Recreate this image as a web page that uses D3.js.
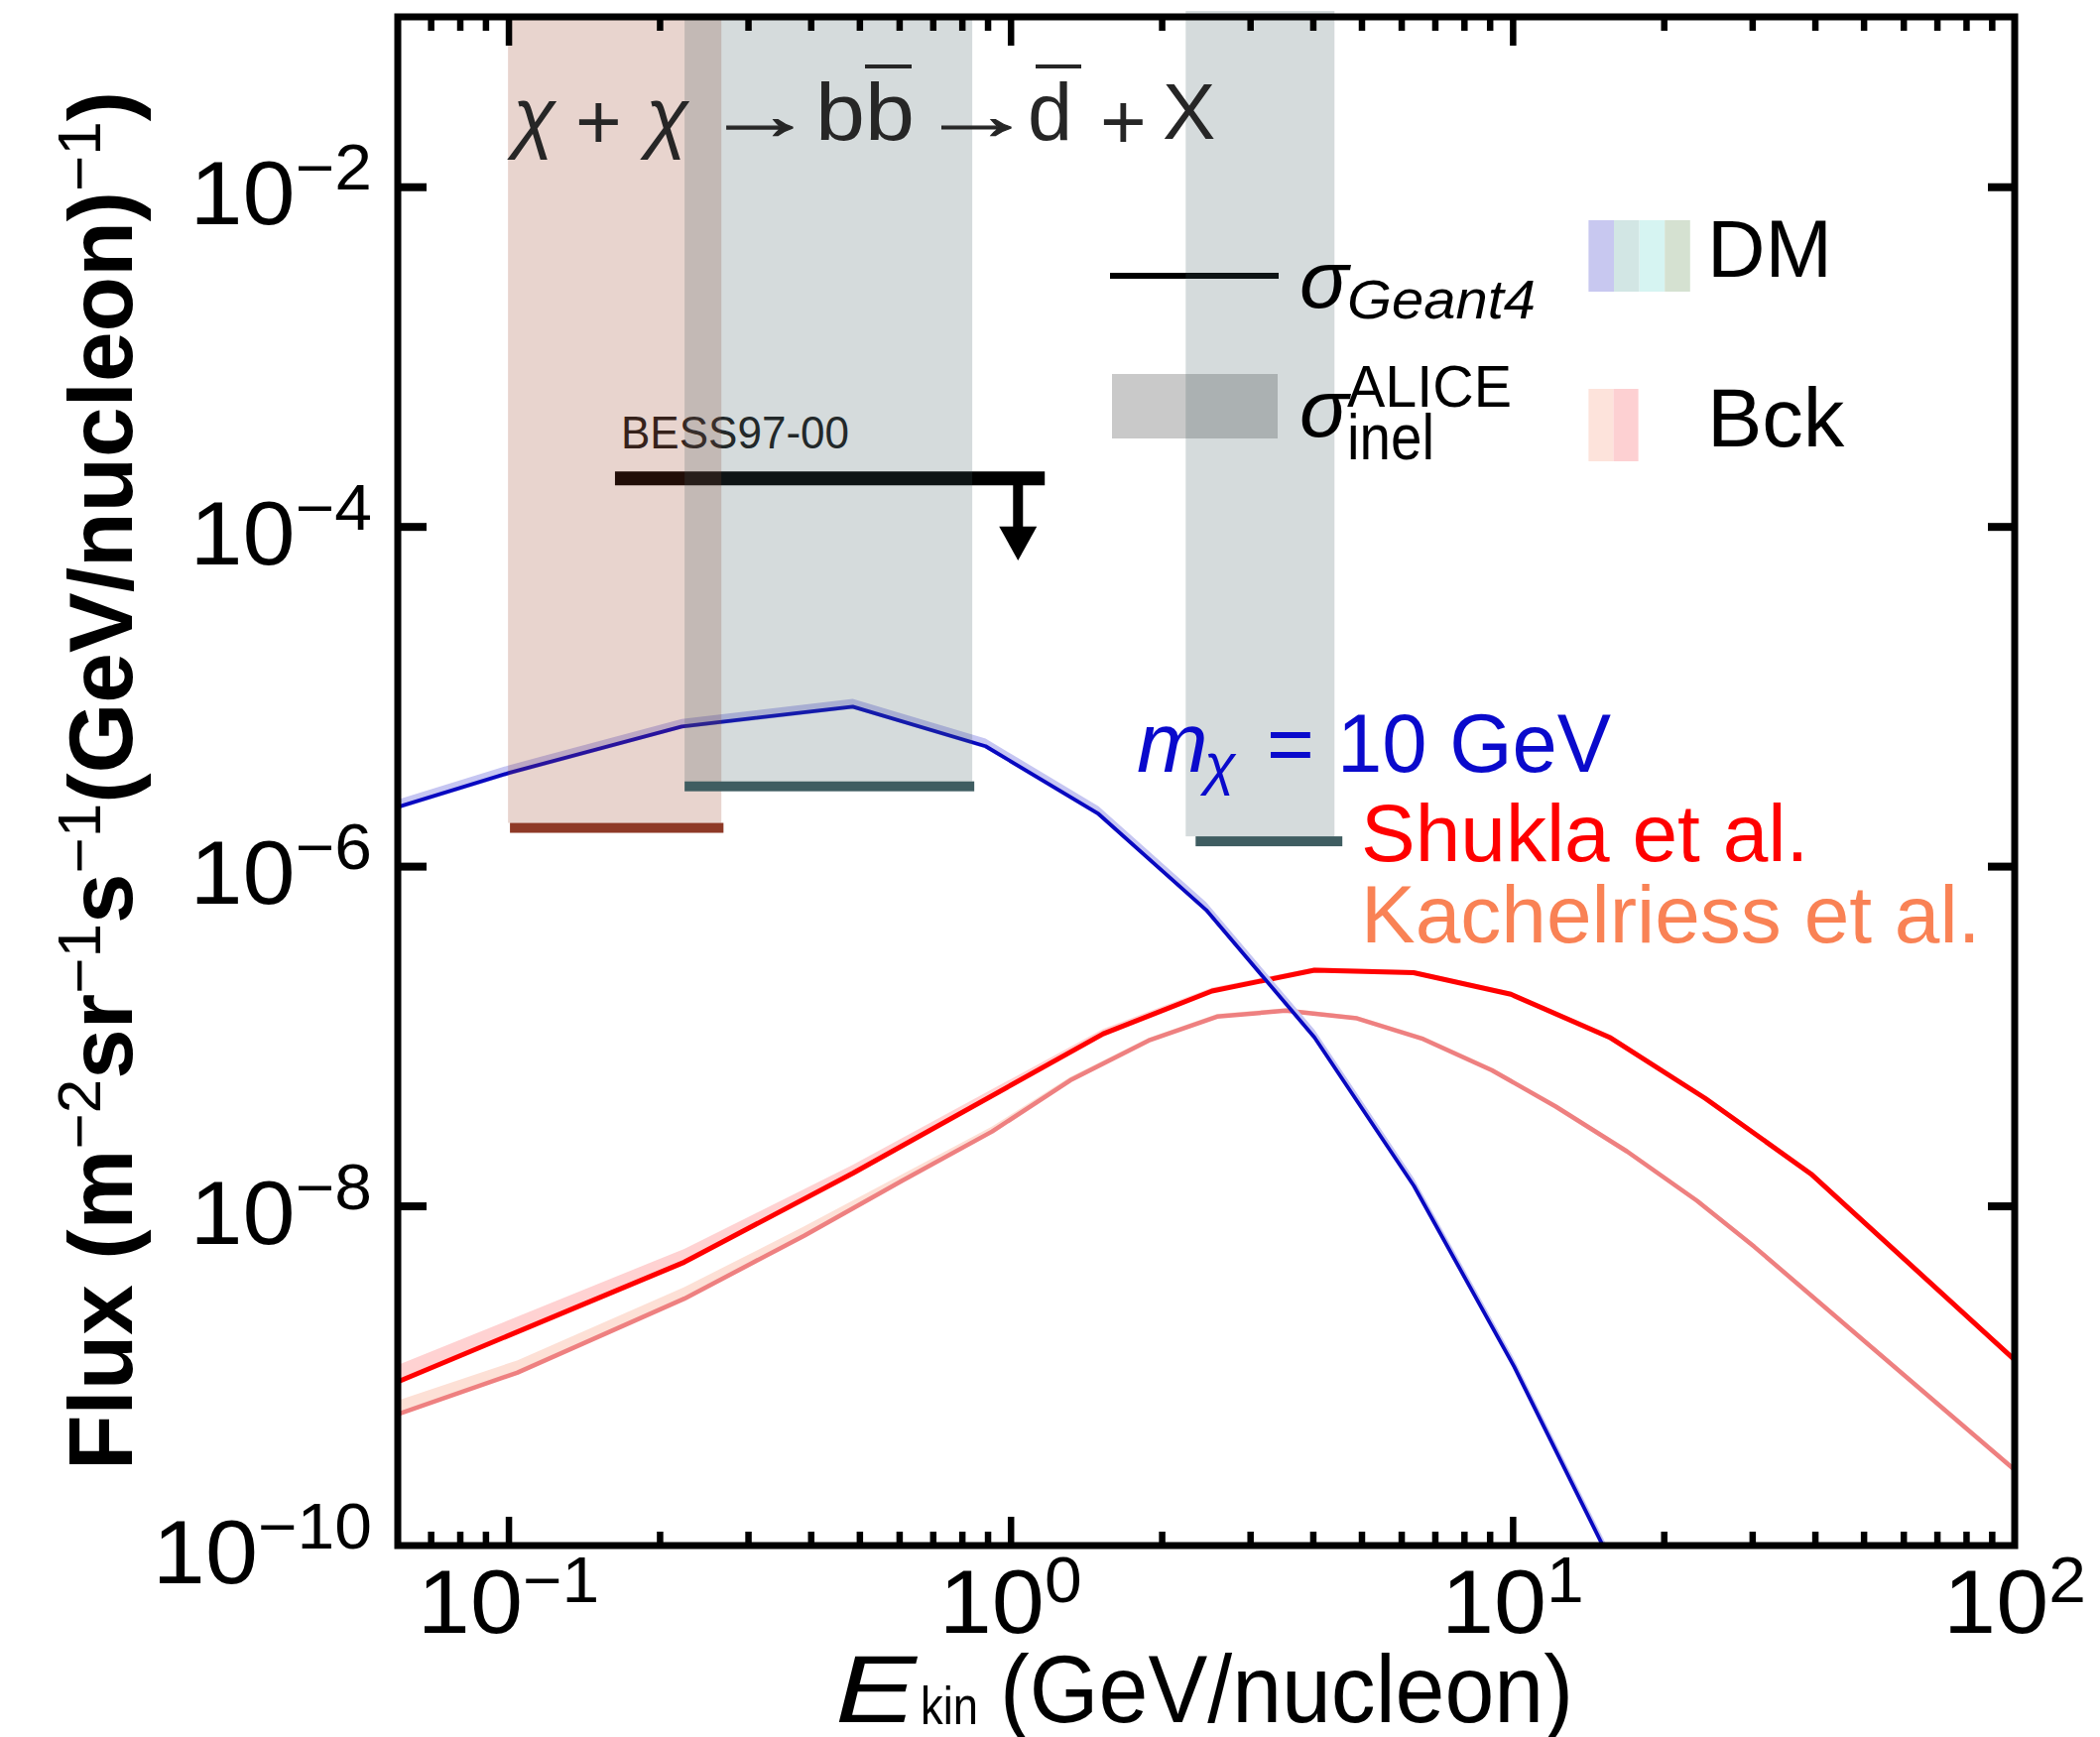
<!DOCTYPE html>
<html>
<head>
<meta charset="utf-8">
<script src="https://cdn.jsdelivr.net/npm/d3@7"></script>
<style>
  html, body { margin: 0; padding: 0; background: #fff; }
  svg { display: block; }
  text { font-family: "Liberation Sans", Arial, Helvetica, sans-serif; }
</style>
</head>
<body>
<svg id="chart" width="2117" height="1751"></svg>
<script>
// ---- axes ----
const xDomain = [0.0602, 100];
const yDomain = [1e-10, 1e-1];
const xMajorTicks = [0.1, 1, 10, 100];
const xTickExponents = ["−1", "0", "1", "2"];
const yMajorTicks = [1e-2, 1e-4, 1e-6, 1e-8, 1e-10];
const yTickExponents = ["−2", "−4", "−6", "−8", "−10"];

// ---- dark matter signal, m_chi = 10 GeV (b bbar) ----
const dmEnergy = [0.06, 0.1006, 0.2215, 0.485, 0.892, 1.497, 2.453, 4.03, 6.36, 10.07, 15.0, 16.0];
const dmFlux   = [2.22e-6, 3.55e-6, 6.64e-6, 8.69e-6, 5.08e-6, 2.03e-6, 5.52e-7, 9.82e-8, 1.31e-8, 1.13e-9, 1.05e-10, 7.2e-11];
const dmHigh   = [2.46e-6, 3.94e-6, 7.36e-6, 9.64e-6, 5.64e-6, 2.25e-6, 6.12e-7, 1.09e-7, 1.45e-8, 1.25e-9, 1.17e-10, 8.0e-11];
const dmLow    = [2.15e-6, 3.44e-6, 6.44e-6, 8.43e-6, 4.93e-6, 1.97e-6, 5.35e-7, 9.5e-8, 1.27e-8, 1.10e-9, 1.02e-10, 7.0e-11];

// ---- secondary background, Shukla et al. ----
const shuklaEnergy = [0.06, 0.224, 0.486, 1.53, 2.52, 4.03, 6.35, 9.92, 15.6, 24.2, 39.3, 100];
const shuklaFlux   = [9.18e-10, 4.66e-9, 1.56e-8, 1.03e-7, 1.84e-7, 2.44e-7, 2.36e-7, 1.76e-7, 9.82e-8, 4.29e-8, 1.54e-8, 1.24e-9];
const shuklaHigh   = [1.15e-9, 5.58e-9, 1.75e-8, 1.10e-7, 1.93e-7, 2.53e-7, 2.44e-7, 1.82e-7, 1.02e-7, 4.44e-8, 1.59e-8, 1.29e-9];
const shuklaLow    = [9.04e-10, 4.59e-9, 1.54e-8, 1.01e-7, 1.81e-7, 2.41e-7, 2.32e-7, 1.73e-7, 9.67e-8, 4.23e-8, 1.51e-8, 1.22e-9];

// ---- secondary background, Kachelriess et al. ----
const kachEnergy = [0.06, 0.104, 0.224, 0.388, 0.607, 0.919, 1.315, 1.884, 2.579, 3.532, 4.898, 6.637, 9.1, 12.19, 16.9, 23.3, 30.3, 100];
const kachFlux   = [5.92e-10, 1.04e-9, 2.84e-9, 6.67e-9, 1.40e-8, 2.74e-8, 5.48e-8, 9.40e-8, 1.30e-7, 1.41e-7, 1.27e-7, 9.59e-8, 6.28e-8, 3.84e-8, 2.09e-8, 1.07e-8, 5.74e-9, 2.79e-10];
const kachHigh   = [7.12e-10, 1.23e-9, 3.32e-9, 7.57e-9, 1.53e-8, 2.93e-8, 5.74e-8, 9.73e-8, 1.35e-7, 1.46e-7, 1.31e-7, 9.93e-8, 6.50e-8, 3.97e-8, 2.17e-8, 1.11e-8, 5.94e-9, 2.89e-10];
const kachLow    = [5.83e-10, 1.02e-9, 2.80e-9, 6.57e-9, 1.38e-8, 2.69e-8, 5.40e-8, 9.26e-8, 1.28e-7, 1.39e-7, 1.25e-7, 9.45e-8, 6.19e-8, 3.78e-8, 2.06e-8, 1.05e-8, 5.65e-9, 2.75e-10];

// ---- experimental energy windows and sensitivities ----
const windowKind  = ["bck", "dm", "dm"];
const windowLow   = [0.0998, 0.2243, 2.233];
const windowHigh  = [0.2655, 0.839, 4.418];
const sensLow     = [0.1007, 0.2243, 2.337];
const sensHigh    = [0.2681, 0.8468, 4.58];
const sensFlux    = [1.68e-6, 2.95e-6, 1.40e-6];

// ---- BESS97-00 upper limit ----
const bessEnergy = [0.163, 1.17];
const bessLimit = 1.92e-4;
const bessArrowEnergy = 1.035;
const bessArrowHead = [1.0e-4, 6.3e-5];

// ---- legend swatch colours ----
const dmSwatch  = ["#c8c8f0", "#d2e6e4", "#d6f4f2", "#d5e1d1"];
const bckSwatch = ["#fde3db", "#fdd0d2"];

const svg = d3.select("#chart");
const plot = { left: 401, right: 2031, top: 17, bottom: 1558 };

const x = d3.scaleLog().domain(xDomain).range([plot.left, plot.right]);
const y = d3.scaleLog().domain(yDomain).range([plot.bottom, plot.top]);

svg.append("defs").append("clipPath").attr("id", "plotClip")
  .append("rect")
  .attr("x", plot.left).attr("y", plot.top)
  .attr("width", plot.right - plot.left).attr("height", plot.bottom - plot.top);

function addText(parent, px, py, str, o = {}) {
  const t = parent.append("text")
    .attr("transform", `translate(${px},${py})` + (o.sx ? ` scale(${o.sx},1)` : ""))
    .attr("font-size", o.size || 80)
    .attr("fill", o.fill || "#000")
    .attr("text-anchor", o.anchor || "start")
    .text(str);
  if (o.family) t.attr("font-family", o.family);
  if (o.italic) t.attr("font-style", "italic");
  if (o.weight) t.attr("font-weight", o.weight);
  if (o.len) t.attr("textLength", o.len).attr("lengthAdjust", "spacingAndGlyphs");
  return t;
}

// places a glyph so that its inked box fills [x0,x1] with the given height around yMid
const measureCtx = document.createElement("canvas").getContext("2d");
function fitGlyph(parent, str, family, x0, x1, yMid, height, fill) {
  const size = 100;
  measureCtx.font = `${size}px ${family}`;
  const m = measureCtx.measureText(str);
  const inkL = -m.actualBoundingBoxLeft, inkR = m.actualBoundingBoxRight;
  const inkT = -m.actualBoundingBoxAscent, inkB = m.actualBoundingBoxDescent;
  const sx = (x1 - x0) / Math.max(1, inkR - inkL);
  const sy = height / Math.max(1, inkB - inkT);
  const tx = x0 - sx * inkL, ty = yMid - sy * (inkT + inkB) / 2;
  return parent.append("text")
    .attr("transform", `translate(${tx},${ty}) scale(${sx},${sy})`)
    .attr("font-family", family).attr("font-size", size).attr("fill", fill)
    .attr("stroke", fill).attr("stroke-width", 1.6).attr("vector-effect", "non-scaling-stroke")
    .text(str);
}
const serif = '"Liberation Serif", "Times New Roman", serif';

// legend: ALICE grey box (sits beneath the energy windows)
svg.append("rect").attr("x", 1121).attr("y", 377).attr("width", 167).attr("height", 65).attr("fill", "#c9c9c9");

// curves
const curves = svg.append("g").attr("clip-path", "url(#plotClip)");
function drawCurve(E, F, hi, lo, bandColor, lineColor, width) {
  const pts = E.map((e, i) => ({ e, f: F[i], hi: hi[i], lo: lo[i] }));
  curves.append("path").datum(pts)
    .attr("d", d3.area().x(d => x(d.e)).y0(d => y(d.lo)).y1(d => y(d.hi)))
    .attr("fill", bandColor);
  curves.append("path").datum(pts)
    .attr("d", d3.line().x(d => x(d.e)).y(d => y(d.f)))
    .attr("fill", "none").attr("stroke", lineColor).attr("stroke-width", width)
    .attr("stroke-linejoin", "round");
}
drawCurve(kachEnergy, kachFlux, kachHigh, kachLow, "#fde0d6", "#ee8080", 4.5);
drawCurve(shuklaEnergy, shuklaFlux, shuklaHigh, shuklaLow, "#ffd2d2", "#ff0000", 5);
drawCurve(dmEnergy, dmFlux, dmHigh, dmLow, "#c6c6f2", "#0808c0", 3.8);

// BESS upper limit with arrow
const bess = svg.append("g");
bess.append("line")
  .attr("x1", x(bessEnergy[0])).attr("x2", x(bessEnergy[1]))
  .attr("y1", y(bessLimit)).attr("y2", y(bessLimit))
  .attr("stroke", "#000").attr("stroke-width", 14);
const ax = x(bessArrowEnergy);
bess.append("line")
  .attr("x1", ax).attr("x2", ax)
  .attr("y1", y(bessLimit)).attr("y2", y(bessArrowHead[0]) + 2)
  .attr("stroke", "#000").attr("stroke-width", 10);
bess.append("path")
  .attr("d", `M${ax - 19},${y(bessArrowHead[0])}L${ax + 19},${y(bessArrowHead[0])}L${ax},${y(bessArrowHead[1])}Z`)
  .attr("fill", "#000");
addText(svg, 626, 452, "BESS97-00", { size: 46, fill: "#1a1a1a", len: 230 });

// legend: Geant4 line
svg.append("line").attr("x1", 1119).attr("x2", 1289).attr("y1", 278).attr("y2", 278)
  .attr("stroke", "#000").attr("stroke-width", 6);

// energy windows (translucent)
const bar = 10;
windowKind.forEach((k, i) => {
  const top = i === 2 ? plot.top - 6 : plot.top + 3;
  svg.append("rect")
    .attr("x", x(windowLow[i])).attr("width", x(windowHigh[i]) - x(windowLow[i]))
    .attr("y", top).attr("height", y(sensFlux[i]) - bar / 2 - top)
    .attr("fill", k === "bck" ? "rgba(150,60,30,0.22)" : "rgba(65,90,95,0.22)");
});
windowKind.forEach((k, i) => {
  svg.append("rect")
    .attr("x", x(sensLow[i])).attr("width", x(sensHigh[i]) - x(sensLow[i]))
    .attr("y", y(sensFlux[i]) - bar / 2).attr("height", bar)
    .attr("fill", k === "bck" ? "#8e3926" : "#3f5d61");
});

// process annotation: chi + chi -> b bbar -> dbar + X
const ink = "#262626";
const arrowFont = '"DejaVu Sans", sans-serif';
addText(svg, 517, 144, "χ", { size: 79, family: serif, italic: true, fill: ink });
addText(svg, 580, 150, "+", { size: 80, fill: ink });
addText(svg, 651, 144, "χ", { size: 79, family: serif, italic: true, fill: ink });
fitGlyph(svg, "→", arrowFont, 716, 798, 119, 30, ink);
addText(svg, 822, 141, "bb", { size: 81, fill: ink, len: 100 });
fitGlyph(svg, "→", arrowFont, 932, 1018, 119, 30, ink);
addText(svg, 1036, 141, "d", { size: 81, fill: ink });
addText(svg, 1109, 150, "+", { size: 80, fill: ink });
addText(svg, 1172, 140, "X", { size: 80, fill: ink });
svg.append("line").attr("x1", 872).attr("x2", 919).attr("y1", 67).attr("y2", 67).attr("stroke", ink).attr("stroke-width", 4);
svg.append("line").attr("x1", 1044).attr("x2", 1090).attr("y1", 67).attr("y2", 67).attr("stroke", ink).attr("stroke-width", 4);

// legend texts
addText(svg, 1310, 310, "σ", { size: 82, family: serif, italic: true });
addText(svg, 1358, 321, "Geant4", { size: 56, italic: true, len: 190 });
addText(svg, 1310, 440, "σ", { size: 82, family: serif, italic: true });
addText(svg, 1358, 410, "ALICE", { size: 60, len: 166 });
addText(svg, 1358, 463, "inel", { size: 64, len: 88 });
dmSwatch.forEach((c, i) => svg.append("rect").attr("x", 1601.4 + i * 25.6).attr("y", 222).attr("width", 25.6).attr("height", 72).attr("fill", c));
bckSwatch.forEach((c, i) => svg.append("rect").attr("x", 1601.4 + i * 25.1).attr("y", 392).attr("width", 25.1).attr("height", 73).attr("fill", c));
addText(svg, 1721, 279, "DM", { size: 81 });
addText(svg, 1721, 450, "Bck", { size: 83 });

// curve labels
const blue = "#0a0acc";
addText(svg, 1146, 778, "m", { size: 86, italic: true, fill: blue });
addText(svg, 1214, 790, "χ", { size: 58, family: serif, italic: true, fill: blue });
addText(svg, 1277, 778, "=", { size: 82, fill: blue });
addText(svg, 1348, 778, "10 GeV", { size: 83, fill: blue, len: 276 });
addText(svg, 1372, 868, "Shukla et al.", { size: 82, fill: "#ff0000" });
addText(svg, 1372, 950, "Kachelriess et al.", { size: 82, fill: "#f98255" });

// ticks (inward on all four sides)
const minorX = [];
for (let p = -2; p <= 1; p++) for (let m = 2; m <= 9; m++) {
  const v = m * Math.pow(10, p);
  if (v > xDomain[0] * 1.02 && v < xDomain[1]) minorX.push(v);
}
const innerY = yMajorTicks.filter(v => v > yDomain[0]);
function tickGroup(axis, tx, ty, width) {
  const g = svg.append("g").attr("transform", `translate(${tx},${ty})`).call(axis);
  g.select(".domain").remove();
  g.selectAll("line").attr("stroke", "#000").attr("stroke-width", width);
  g.selectAll("text").remove();
}
tickGroup(d3.axisBottom(x).tickValues(xMajorTicks.slice(0, 3)).tickSize(-29), 0, plot.bottom, 6.5);
tickGroup(d3.axisBottom(x).tickValues(minorX).tickSize(-14), 0, plot.bottom, 6.5);
tickGroup(d3.axisTop(x).tickValues(xMajorTicks.slice(0, 3)).tickSize(-29), 0, plot.top, 6.5);
tickGroup(d3.axisTop(x).tickValues(minorX).tickSize(-14), 0, plot.top, 6.5);
tickGroup(d3.axisLeft(y).tickValues(innerY).tickSize(-29), plot.left, 0, 8);
tickGroup(d3.axisRight(y).tickValues(innerY).tickSize(-27), plot.right, 0, 8);

// frame
svg.append("rect")
  .attr("x", plot.left).attr("y", plot.top)
  .attr("width", plot.right - plot.left).attr("height", plot.bottom - plot.top)
  .attr("fill", "none").attr("stroke", "#000").attr("stroke-width", 7);

// tick labels 10^n
function powerLabel(px, py, exp, anchor, supDy) {
  const t = svg.append("text")
    .attr("transform", `translate(${px},${py}) scale(1.06,1)`)
    .attr("text-anchor", anchor).attr("font-size", 90).attr("fill", "#000");
  t.append("tspan").text("10");
  t.append("tspan").attr("dy", supDy).attr("font-size", 64).text(exp);
}
yMajorTicks.forEach((v, i) => powerLabel(375, y(v) + 38, yTickExponents[i], "end", -35));
xMajorTicks.forEach((v, i) => powerLabel(x(v), 1646, xTickExponents[i], "middle", -31));

// axis titles
const yt = svg.append("text")
  .attr("transform", `translate(133,787) rotate(-90)`)
  .attr("text-anchor", "middle").attr("font-size", 91).attr("font-weight", "bold").attr("fill", "#000");
[["Flux (m", null], ["−2", "sup"], ["sr", null], ["−1", "sup"], ["s", null], ["−1", "sup"],
 ["(GeV/nucleon)", null], ["−1", "sup"], [")", null]].forEach(([s, kind], i, arr) => {
  const sp = yt.append("tspan").text(s);
  if (kind === "sup") sp.attr("dy", -32).attr("font-size", 62).attr("font-weight", "normal");
  else if (i > 0 && arr[i - 1][1] === "sup") sp.attr("dy", 32);
});

addText(svg, 842, 1736, "E", { size: 96, italic: true, len: 82 });
addText(svg, 928, 1738, "kin", { size: 54, len: 58 });
addText(svg, 1008, 1736, "(GeV/nucleon)", { size: 96, len: 578 });
</script>
</body>
</html>
